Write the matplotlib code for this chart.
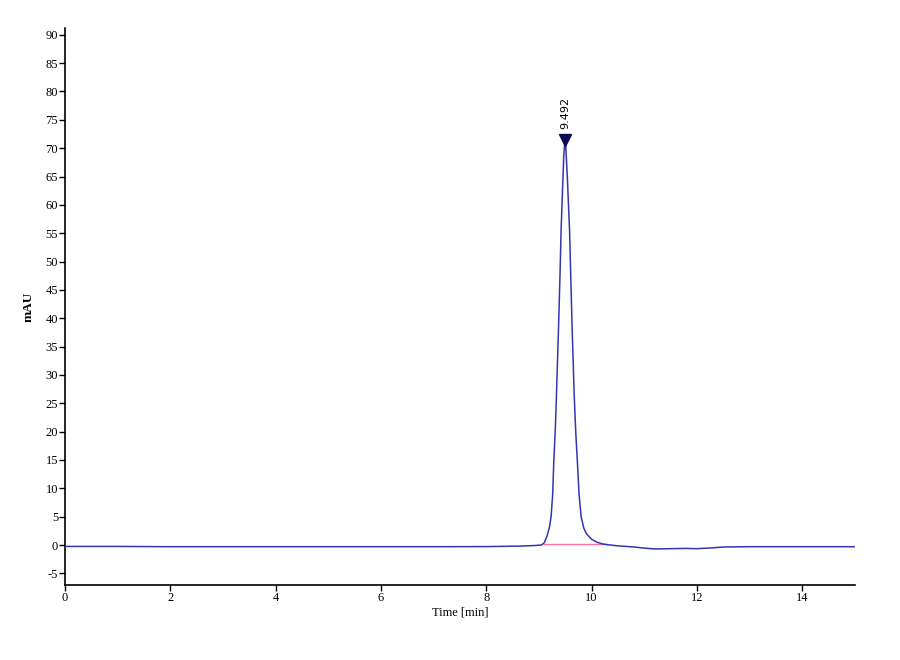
import numpy as np
import matplotlib
matplotlib.use('Agg')
import matplotlib.pyplot as plt

# chromatogram trace (time in min, signal in mAU)
time = [0.0, 1.0, 2.0, 3.0, 4.0, 5.0, 6.0, 7.0, 8.0, 8.6, 8.9, 9.05, 9.10,
        9.15, 9.20, 9.23, 9.26, 9.28, 9.31, 9.33, 9.35, 9.37, 9.40, 9.42,
        9.45, 9.47, 9.492, 9.51, 9.54, 9.56, 9.58, 9.61, 9.63, 9.65, 9.67,
        9.70, 9.73, 9.76, 9.80, 9.85, 9.90, 10.0, 10.1, 10.2, 10.3, 10.5,
        10.8, 11.0, 11.2, 11.5, 11.8, 12.0, 12.3, 12.5, 13.0, 13.5, 14.0,
        14.5, 15.0]
signal = [-0.25, -0.25, -0.3, -0.3, -0.3, -0.3, -0.3, -0.3, -0.28, -0.2,
          -0.1, 0.0, 0.4, 1.5, 3.2, 5.0, 9.0, 14.5, 20.5, 26.0, 32.0, 38.0,
          48.0, 55.6, 63.5, 68.5, 71.5, 70.0, 64.5, 60.0, 55.6, 45.0, 38.0,
          32.0, 26.0, 19.5, 14.5, 9.0, 5.0, 3.0, 2.0, 1.0, 0.5, 0.2, 0.05,
          -0.15, -0.35, -0.55, -0.7, -0.65, -0.6, -0.65, -0.5, -0.35, -0.3,
          -0.3, -0.3, -0.3, -0.3]

peak_time = 9.492
peak_height = 71.5
peak_label = '9.492'

# integration baseline
base_t = [9.10, 10.30]
base_v = [0.1, 0.1]

yticks = np.arange(-5, 95, 5)
xticks = np.arange(0, 16, 2)

plt.rcParams['font.family'] = ['Liberation Serif', 'DejaVu Serif']
plt.rcParams['axes.unicode_minus'] = False

fig = plt.figure(figsize=(9, 6.6), dpi=100)
ax = fig.add_axes([0.0722, 0.1136, 0.8778, 0.844])

ax.plot(base_t, base_v, color='#ff6fa0', lw=1.0, zorder=2)
ax.plot(time, signal, color='#3535b0', lw=1.1, zorder=3)
ax.plot([peak_time], [peak_height], marker='v', color='#0a0a50',
        markersize=8, zorder=4)
ax.text(peak_time, peak_height + 1.8, peak_label, rotation=90,
        ha='center', va='bottom', fontsize=8, family='DejaVu Sans')

ax.set_xlim(0, 15)
ax.set_ylim(-7.06, 91.2)
ax.set_yticks(yticks)
ax.set_xticks(xticks)
ax.tick_params(axis='both', direction='out', length=4, width=1,
               labelsize=9, pad=1)
for s in ['top', 'right']:
    ax.spines[s].set_visible(False)
for s in ['left', 'bottom']:
    ax.spines[s].set_linewidth(1.2)

ax.set_xlabel('Time [min]', fontsize=9, labelpad=2)
ax.set_ylabel('mAU', fontsize=9.5, fontweight='bold', labelpad=8)

fig.savefig('out.png', dpi=100)
